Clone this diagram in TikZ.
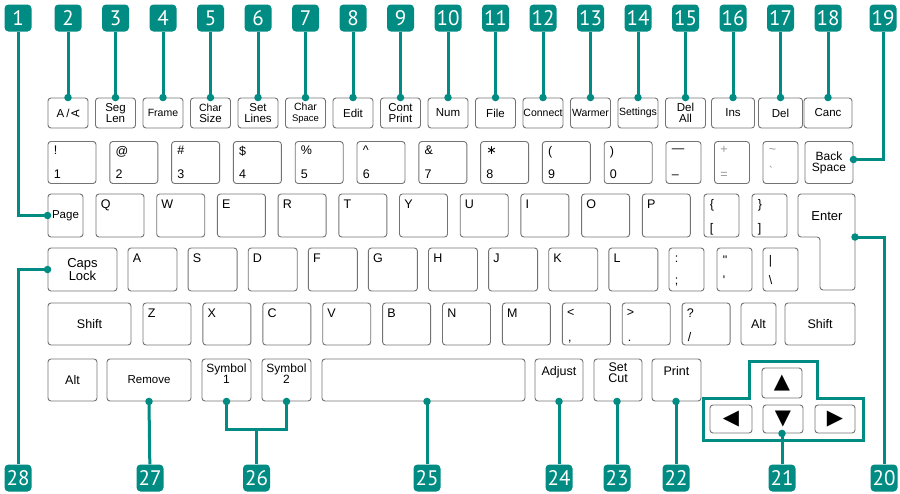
\documentclass[tikz,border=0pt]{standalone}
\usepackage{fontspec}
\usepackage{graphicx}
\setmainfont{Liberation Sans}
\newfontfamily\badgefont{PT Sans}
\newfontfamily\symfont{DejaVu Sans}
\newcommand\smallkey{\fontsize{10.5}{10}\selectfont}
\newcommand\tinykey{\fontsize{9.5}{9.5}\selectfont}
\definecolor{Teal}{RGB}{0,140,130}
\definecolor{KeyGray}{RGB}{115,115,115}
\definecolor{LightInk}{RGB}{150,150,150}
\usetikzlibrary{arrows.meta, positioning, calc}

\tikzset{
  key/.style={draw=KeyGray, line width=0.9pt, rounded corners=3pt, inner sep=0pt,
    minimum height=42pt, align=center, font=\fontsize{12.5}{11.5}\selectfont},
  fkey/.style={key, minimum width=40pt, minimum height=30pt, font=\fontsize{11.5}{11}\selectfont},
  legend/.style={anchor=north west, inner sep=0pt, font=\fontsize{12.5}{12}\selectfont},
  badge/.style={fill=Teal, text=white, rounded corners=4pt, minimum width=27pt,
    minimum height=27pt, inner sep=0pt, font=\badgefont\fontsize{21}{21}\selectfont},
  conn/.style={draw=Teal, line width=3pt},
  dot/.style={circle, fill=Teal, minimum size=7.5pt, inner sep=0pt},
}

\begin{document}
\begin{tikzpicture}[x=1pt, y=-1pt]
\useasboundingbox (0,0) rectangle (900,493);

% Rândul de taste funcționale
\foreach \n/\w/\t in {2/40/{A\,/\,\rotatebox{90}{A}}, 3/40/{Seg\\Len}, 4/40/{\smallkey Frame},
    5/40/{\smallkey Char\\Size}, 6/40/{Set\\Lines}, 7/40/{\smallkey Char\\\tinykey Space},
    8/40/{Edit}, 9/40/{Cont\\Print}, 10/40/{Num}, 11/40/{File}, 12/40/{\smallkey Connect},
    13/40/{\smallkey Warmer}, 14/40/{\smallkey Settings}, 15/40/{Del\\All},
    16/43/{Ins}, 17/44/{Del}, 18/48/{Canc}} {
  \node[badge] (b\n) at ({68+47.5*(\n-2)},18) {\n};
  \node[fkey, minimum width=\w pt] (f\n) at ({68+47.5*(\n-2)},113) {\t};
  \draw[conn] (b\n) -- (f\n.north) node[dot] {};
}

% Rândul de cifre
\foreach \i/\up/\dn in {0/!/1, 1/@/2, 2/\#/3, 3/\$/4, 4/\%/5, 5/\textasciicircum/6, 6/\&/7,
    7/{\symfont ∗}/8, 8/{(}/9, 9/{)}/0} {
  \node[key, minimum width=48pt] (n\i) at ({72+61.8*\i},162.5) {};
  \node[legend] at ([shift={(6pt,-5pt)}]n\i.north west) {\up};
  \node[legend, anchor=base west] at ([shift={(6pt,5pt)}]n\i.south west) {\dn};
}
\node[key, minimum width=35pt] (minus) at (683.5,162.5) {};
\node[legend] at ([shift={(6pt,-8pt)}]minus.north west) {—};
\node[legend, anchor=base west] at ([shift={(6pt,5pt)}]minus.south west) {–};
\node[key, minimum width=35pt] (equal) at (732,162.5) {};
\node[legend, text=LightInk] at ([shift={(6pt,-5pt)}]equal.north west) {+};
\node[legend, text=LightInk, anchor=base west] at ([shift={(6pt,5pt)}]equal.south west) {=};
\node[key, minimum width=35pt] (tilde) at (780.5,162.5) {};
\node[legend, text=LightInk] at ([shift={(6pt,-7pt)}]tilde.north west) {\textasciitilde};
\node[legend, text=LightInk, anchor=base west] at ([shift={(6pt,8pt)}]tilde.south west) {\textasciigrave};
\node[key, minimum width=48pt, font=\fontsize{12}{11}\selectfont] (back) at (829,162.5) {Back\\Space};

% Rândul QWERTY
\node[key, minimum width=35pt, minimum height=43pt, font=\fontsize{11.5}{11}\selectfont] (page) at (65.5,215.5) {Page};
\foreach \i/\t in {0/Q, 1/W, 2/E, 3/R, 4/T, 5/Y, 6/U, 7/I, 8/O, 9/P} {
  \node[key, minimum width=48pt, minimum height=43pt] (q\i) at ({120+60.7*\i},215.5) {};
  \node[legend] at ([shift={(5pt,-6pt)}]q\i.north west) {\t};
}
\node[key, minimum width=35pt, minimum height=43pt] (lbrace) at (721.5,215.5) {};
\node[legend] at ([shift={(6pt,-6pt)}]lbrace.north west) {\{};
\node[legend, anchor=base west] at ([shift={(6pt,5pt)}]lbrace.south west) {[};
\node[key, minimum width=35pt, minimum height=43pt] (rbrace) at (769.5,215.5) {};
\node[legend] at ([shift={(6pt,-6pt)}]rbrace.north west) {\}};
\node[legend, anchor=base west] at ([shift={(6pt,5pt)}]rbrace.south west) {]};
\draw[draw=KeyGray, line width=0.9pt, rounded corners=3pt]
  (798,194) -- (855,194) -- (855,290) -- (820,290) -- (820,237) -- (798,237) -- cycle;
\node[font=\fontsize{13}{12}\selectfont] (enter) at (827,216) {Enter};
\coordinate (enterR) at (855,237);

% Rândul de bază
\node[key, minimum width=69pt, minimum height=43pt, font=\fontsize{13}{12}\selectfont] (caps) at (82.5,269.5) {Caps\\Lock};
\foreach \i/\t in {0/A, 1/S, 2/D, 3/F, 4/G, 5/H, 6/J, 7/K, 8/L} {
  \node[key, minimum width=49pt, minimum height=43pt] (a\i) at ({152.5+60.1*\i},269.5) {};
  \node[legend] at ([shift={(5pt,-6pt)}]a\i.north west) {\t};
}
\foreach \x/\nm/\up/\dn in {686.5/colon/:/;, 734.5/quote/\textquotedbl/\textquotesingle,
    780.5/bar/\textbar/\textbackslash} {
  \node[key, minimum width=35pt, minimum height=43pt] (\nm) at (\x,269.5) {};
  \node[legend] at ([shift={(6pt,-8pt)}]\nm.north west) {\up};
  \node[legend, anchor=base west] at ([shift={(6pt,7pt)}]\nm.south west) {\dn};
}

% Rândul Shift
\node[key, minimum width=83pt] (lshift) at (89.5,324) {Shift};
\foreach \i/\up/\dn in {0/Z/, 1/X/, 2/C/, 3/V/, 4/B/, 5/N/, 6/M/, 7/{<}/{,}, 8/{>}/{.}, 9/?/{/}} {
  \node[key, minimum width=48pt] (z\i) at ({167+59.9*\i},324) {};
  \node[legend] at ([shift={(5pt,-6pt)}]z\i.north west) {\up};
  \node[legend, anchor=base west] at ([shift={(6pt,4pt)}]z\i.south west) {\dn};
}
\node[key, minimum width=35pt] (ralt) at (758.5,324) {Alt};
\node[key, minimum width=70pt] (rshift) at (820,324) {Shift};

% Rândul de jos
\node[key, minimum width=49pt] (lalt) at (72.5,380) {Alt};
\node[key, minimum width=84pt, font=\fontsize{11.5}{11}\selectfont] (remove) at (149,380) {Remove};
\node[key, minimum width=49pt, font=\fontsize{12}{11}\selectfont] (sym1) at (226.5,380) {Symbol\\1\\[2pt]};
\node[key, minimum width=49pt, font=\fontsize{12}{11}\selectfont] (sym2) at (286.5,380) {Symbol\\2\\[2pt]};
\node[key, minimum width=203pt] (space) at (423.5,380) {};
\node[key, minimum width=48pt] (adjust) at (559,380) {Adjust\\[6pt]};
\node[key, minimum width=48pt] (setcut) at (618,380) {Set\\Cut\\[3pt]};
\node[key, minimum width=49pt] (print) at (676.5,380) {Print\\[6pt]};

% Săgeți
\draw[conn] (749,361) -- (817,361) -- (817,398) -- (863,398) -- (863,440) -- (703,440)
  -- (703,398) -- (749,398) -- cycle;
\node[key, minimum width=40pt, minimum height=30pt, font=\symfont\fontsize{21}{21}\selectfont] (up) at (782,383) {▲};
\node[key, minimum width=42pt, minimum height=28pt, font=\symfont\fontsize{21}{21}\selectfont] (left) at (731,419) {◀};
\node[key, minimum width=40pt, minimum height=28pt, font=\symfont\fontsize{21}{21}\selectfont] (down) at (783,419) {▼};
\node[key, minimum width=40pt, minimum height=28pt, font=\symfont\fontsize{21}{21}\selectfont] (right) at (835,419) {▶};

% Etichete laterale și de jos
\node[badge] (b1) at (18,18) {1};
\node[badge] (b19) at (883,18) {19};
\draw[conn] (b1) |- (page.west) node[dot] {};
\draw[conn] (b19) |- ([yshift=3pt]back.east) node[dot] {};

\foreach \n/\x in {20/884, 21/782, 22/676, 23/617, 24/559, 25/427, 26/256.5, 27/150, 28/18}
  \node[badge] (b\n) at (\x,478) {\n};

\draw[conn] (enterR) node[dot] {} -| (b20);
\draw[conn] (b21 |- down.south) node[dot] {} -- (b21);
\draw[conn] (b22 |- print.south) node[dot] {} -- (b22);
\draw[conn] (b23 |- setcut.south) node[dot] {} -- (b23);
\draw[conn] (b24 |- adjust.south) node[dot] {} -- (b24);
\draw[conn] (b25 |- space.south) node[dot] {} -- (b25);
\coordinate (symbar) at (256.5,429);
\draw[conn] (sym1.south) node[dot] {} |- (symbar) -| (sym2.south) node[dot] {};
\draw[conn] (symbar) -- (b26);
\draw[conn] (remove.south) node[dot] {} -- (b27);
\draw[conn] (caps.west) node[dot] {} -| (b28);
\end{tikzpicture}
\end{document}
